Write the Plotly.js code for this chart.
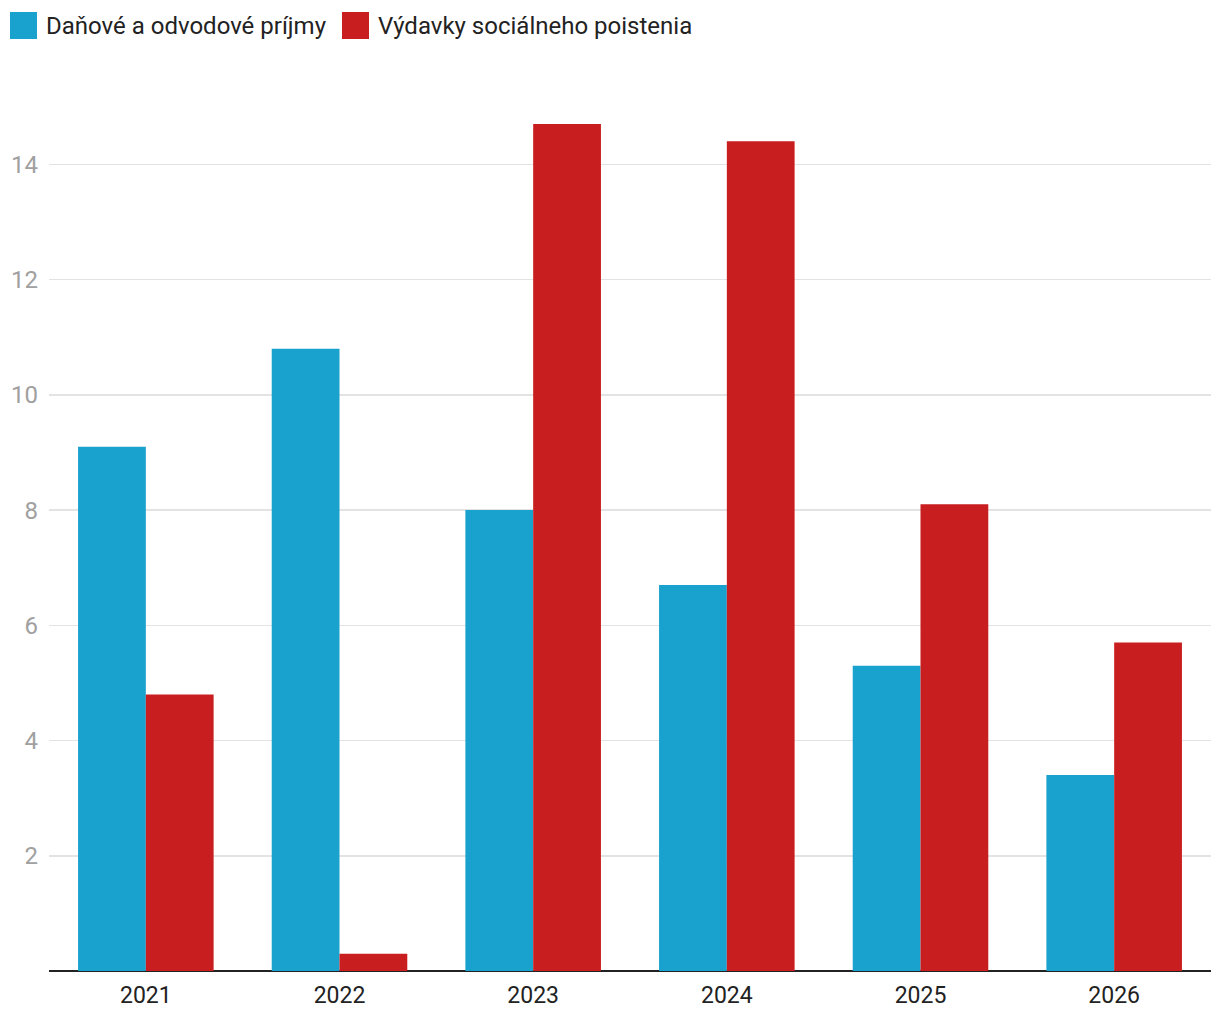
<!DOCTYPE html>
<html>
<head>
<meta charset="utf-8">
<script src="https://cdn.plot.ly/plotly-3.0.1.min.js"></script>
<style>html,body{margin:0;padding:0;background:#fff;}#chart{width:1220px;height:1020px;}</style>
</head>
<body>
<div id="chart"></div>
<script>
const years = ['2021', '2022', '2023', '2024', '2025', '2026'];
const seriesNames = ['Daňové a odvodové príjmy', 'Výdavky sociálneho poistenia'];
const taxRevenue = [9.1, 10.8, 8.0, 6.7, 5.3, 3.4];
const socialSpending = [4.8, 0.3, 14.7, 14.4, 8.1, 5.7];
const yTicks = [2, 4, 6, 8, 10, 12, 14];
const colors = ['#1aa2ce', '#c91e1f'];

const W = 1220, H = 1020;
const M = {l: 49, r: 9, t: 78, b: 49};
const pw = W - M.l - M.r, ph = H - M.t - M.b;
const px = x => (x - M.l) / pw;
const py = y => (H - M.b - y) / ph;

const traces = [
  {type: 'bar', name: seriesNames[0], x: years, y: taxRevenue, marker: {color: colors[0], line: {width: 0}}, hoverinfo: 'x+y'},
  {type: 'bar', name: seriesNames[1], x: years, y: socialSpending, marker: {color: colors[1], line: {width: 0}}, hoverinfo: 'x+y'}
];

const legendX = [10, 342];
const shapes = [];
const annotations = [];
seriesNames.forEach((n, i) => {
  shapes.push({type: 'rect', xref: 'paper', yref: 'paper',
    x0: px(legendX[i]), x1: px(legendX[i] + 27), y0: py(39), y1: py(12),
    fillcolor: colors[i], line: {width: 0}});
  annotations.push({xref: 'paper', yref: 'paper', x: px(legendX[i] + 34), y: py(26),
    xanchor: 'left', yanchor: 'middle', showarrow: false, text: n,
    font: {family: 'Roboto, sans-serif', size: 24, color: '#222'}});
});

const layout = {
  width: W, height: H,
  margin: M,
  paper_bgcolor: '#fff', plot_bgcolor: '#fff',
  showlegend: false,
  barmode: 'group', bargap: 0.3, bargroupgap: 0,
  font: {family: 'Roboto, sans-serif'},
  xaxis: {
    type: 'category', showgrid: false, zeroline: false,
    showline: false, ticks: '', ticklabelstandoff: 8,
    tickfont: {family: 'Roboto, sans-serif', size: 23, color: '#222'}
  },
  yaxis: {
    range: [0, 15.5], tickvals: yTicks, ticktext: yTicks.map(String),
    showgrid: true, gridcolor: '#e3e3e3', gridwidth: 1.5,
    zeroline: true, zerolinecolor: '#222', zerolinewidth: 2,
    showline: false, ticks: '', ticklabelstandoff: 10,
    tickfont: {family: 'Roboto, sans-serif', size: 24, color: '#a0a0a0'}
  },
  shapes: shapes,
  annotations: annotations
};

Plotly.newPlot('chart', traces, layout, {displayModeBar: false, staticPlot: true});
</script>
</body>
</html>
